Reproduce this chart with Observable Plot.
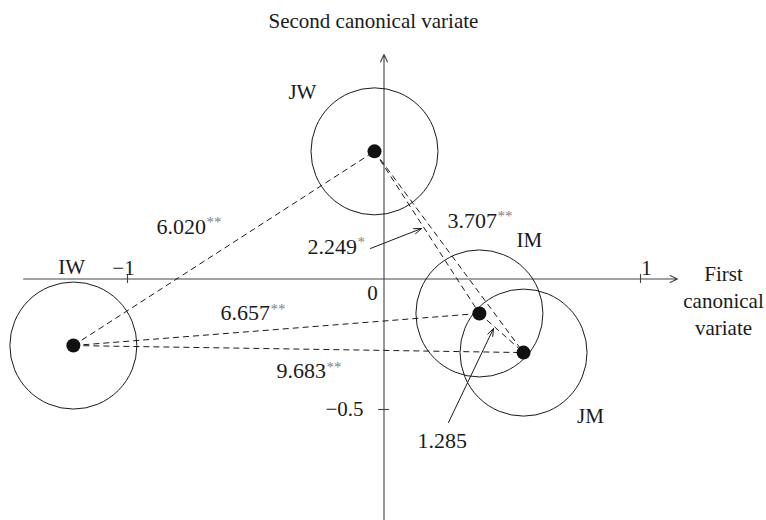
<!DOCTYPE html>
<html>
<head>
<meta charset="utf-8">
<script src="https://cdn.jsdelivr.net/npm/d3@7"></script>
<script src="https://cdn.jsdelivr.net/npm/@observablehq/plot@0.6"></script>
<style>
  html, body { margin: 0; padding: 0; background: #fff; }
  #chart svg { display: block; }
</style>
</head>
<body>
<div id="chart"></div>
<script>
// ---- data ----
const groups = ["IW", "JW", "IM", "JM"];
const cv1 = [-1.211, -0.037, 0.372, 0.544];      // first canonical variate means
const cv2 = [-0.255, 0.489, -0.132, -0.282];     // second canonical variate means
const radius = 0.2476;                           // confidence circle radius

const pairs = [["IW","JW"], ["IW","IM"], ["IW","JM"], ["JW","IM"], ["JW","JM"], ["IM","JM"]];
const distances = ["6.020", "6.657", "9.683", "2.249", "3.707", "1.285"];
const significance = ["**", "**", "**", "*", "**", ""];

// annotation anchors (data units)
const distLabelX = [-0.887, -0.637, -0.419, -0.298, 0.2476, 0.1306];
const distLabelY = [0.201, -0.132, -0.354, 0.1245, 0.224, -0.619];
const groupLabelX = [-1.218, -0.318, 0.567, 0.805];
const groupLabelY = [0.044, 0.7146, 0.1475, -0.527];

const pointerFrom = [[-0.0526, 0.1169], [0.2515, -0.5498]];   // from 2.249 and 1.285 labels
const pointerTo   = [[0.1462, 0.1935], [0.4269, -0.1897]];

const xTicks = [-1, 1];
const xTickLabels = ["\u22121", "1"];
const xTickLabelX = [-1.0156, 1.0234];
const yTicks = [-0.5];
const yTickLabels = ["\u22120.5"];
const xAxisExtent = [-1.405, 1.144];
const yAxisExtent = [-0.93, 0.860];

const xTitle = "First\ncanonical\nvariate";
const yTitle = "Second canonical variate";

// ---- build ----
const idx = Object.fromEntries(groups.map((g, i) => [g, i]));
const pts = groups.map((g, i) => ({group: g, x: cv1[i], y: cv2[i], r: radius,
  lx: groupLabelX[i], ly: groupLabelY[i]}));
const segs = pairs.map(([a, b], i) => ({
  x1: cv1[idx[a]], y1: cv2[idx[a]], x2: cv1[idx[b]], y2: cv2[idx[b]],
  label: distances[i], sig: significance[i], lx: distLabelX[i], ly: distLabelY[i]
}));
const pointers = pointerFrom.map((f, i) => ({x1: f[0], y1: f[1], x2: pointerTo[i][0], y2: pointerTo[i][1]}));

const W = 766, H = 520;
const font = "'Liberation Serif', 'Times New Roman', serif";
const ink = "#1a1a1a";

const chart = Plot.plot({
  width: W, height: H, margin: 0,
  style: {fontFamily: font, background: "#fff", color: ink},
  x: {domain: [-1.4951, 1.4912], axis: null},
  y: {domain: [-0.9253, 1.0670], axis: null},
  r: {type: "linear", domain: [0, 1], range: [0, 256.5]},
  marks: [
    // axes
    Plot.arrow([{x1: xAxisExtent[0], x2: xAxisExtent[1], y1: 0, y2: 0}],
      {x1: "x1", y1: "y1", x2: "x2", y2: "y2", stroke: "#444", strokeWidth: 1.1, headLength: 11, headAngle: 50}),
    Plot.arrow([{x1: 0, x2: 0, y1: yAxisExtent[0], y2: yAxisExtent[1]}],
      {x1: "x1", y1: "y1", x2: "x2", y2: "y2", stroke: "#444", strokeWidth: 1.1, headLength: 11, headAngle: 50}),
    Plot.ruleX(xTicks, {x: d => d, y1: -0.0175, y2: 0.0175, stroke: "#444", strokeWidth: 1.1}),
    Plot.ruleY(yTicks, {y: d => d, x1: -0.021, x2: 0.021, stroke: "#444", strokeWidth: 1.1}),
    // confidence circles
    Plot.dot(pts, {x: "x", y: "y", r: "r", stroke: ink, strokeWidth: 1, fill: "none"}),
    // distance links
    Plot.link(segs, {x1: "x1", y1: "y1", x2: "x2", y2: "y2", stroke: ink, strokeWidth: 1, strokeDasharray: "6,4"}),
    // means
    Plot.dot(pts, {x: "x", y: "y", r: 7, fill: "#111", stroke: "none"}),
    // pointers
    Plot.arrow(pointers, {x1: "x1", y1: "y1", x2: "x2", y2: "y2", stroke: ink, strokeWidth: 1, headLength: 12, headAngle: 40}),
    // distance labels
    Plot.text(segs, {x: "lx", y: "ly", text: "label", textAnchor: "start", lineAnchor: "middle", fontSize: 22, fill: ink}),
    Plot.text(segs, {x: "lx", y: "ly", text: "sig", textAnchor: "start", lineAnchor: "middle", fontSize: 15, fill: "#808080", dx: 50, dy: -4}),
    // group labels
    Plot.text(pts, {x: "lx", y: "ly", text: "group", textAnchor: "middle", lineAnchor: "middle", fontSize: 21, fill: ink}),
    // tick labels
    Plot.text(xTicks, {x: (d, i) => xTickLabelX[i], y: 0.042, text: (d, i) => xTickLabels[i], textAnchor: "middle", lineAnchor: "middle", fontSize: 21, fill: ink}),
    Plot.text([0], {x: -0.045, y: -0.0556, text: d => String(d), textAnchor: "middle", lineAnchor: "middle", fontSize: 21, fill: ink}),
    Plot.text(yTicks, {x: -0.080, y: d => d, text: (d, i) => yTickLabels[i], textAnchor: "end", lineAnchor: "middle", fontSize: 21, fill: ink}),
    // axis titles
    Plot.text([yTitle], {x: -0.041, y: 0.9866, text: d => d, textAnchor: "middle", lineAnchor: "middle", fontSize: 21, fill: ink}),
    Plot.text([xTitle], {x: 1.3236, y: -0.0785, text: d => d, textAnchor: "middle", lineAnchor: "middle", lineHeight: 1.29, fontSize: 21, fill: ink})
  ]
});
document.getElementById("chart").appendChild(chart);
</script>
</body>
</html>
